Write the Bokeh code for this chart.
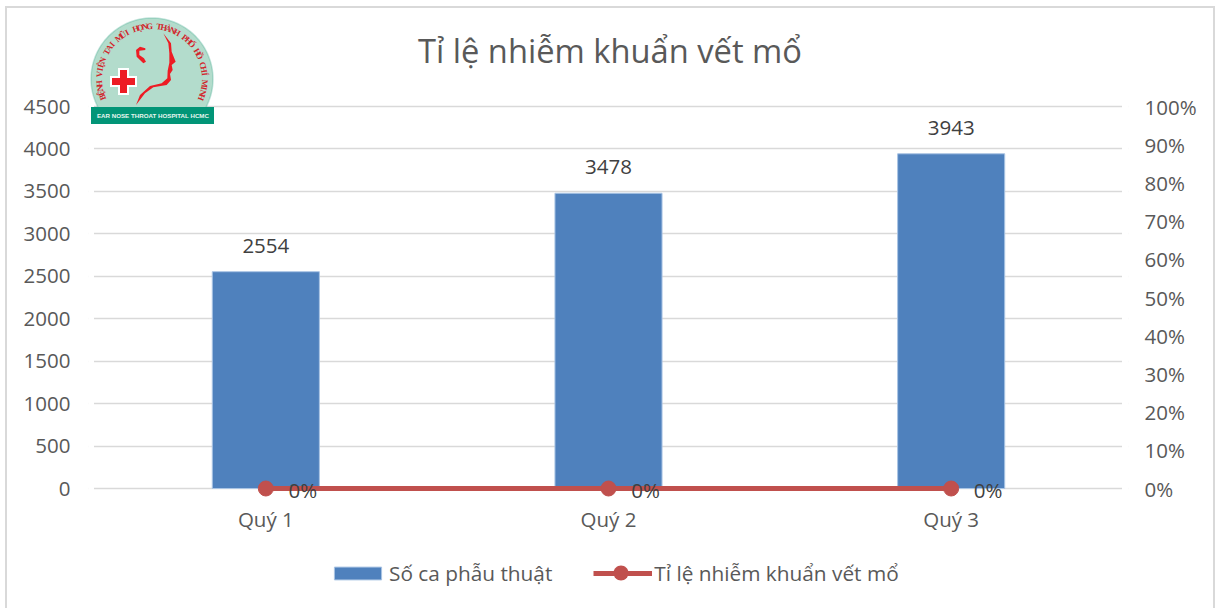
import math
from bokeh.plotting import figure
from bokeh.embed import file_html
from bokeh.resources import INLINE
from bokeh.models import (ColumnDataSource, FactorRange, Range1d, LinearAxis, FixedTicker,
                          NumeralTickFormatter, Legend, LegendItem, Label, BoxAnnotation, PolyAnnotation)
from bokeh.core.properties import value

categories = ["Quý 1", "Quý 2", "Quý 3"]
so_ca = [2554, 3478, 3943]
ti_le = [0, 0, 0]
ti_le_labels = ["0%", "0%", "0%"]
left_ticks = [0, 500, 1000, 1500, 2000, 2500, 3000, 3500, 4000, 4500]
right_ticks = [0, 0.1, 0.2, 0.3, 0.4, 0.5, 0.6, 0.7, 0.8, 0.9, 1.0]
title_text = "Tỉ lệ nhiễm khuẩn vết mổ"
bar_name = "Số ca phẫu thuật"
line_name = "Tỉ lệ nhiễm khuẩn vết mổ"
logo_arc_text = "BỆNH VIỆN TAI MŨI HỌNG THÀNH PHỐ HỒ CHÍ MINH"
logo_band_text = "EAR NOSE THROAT HOSPITAL HCMC"

FONT = "Open Sans"
OX, OY = 7, 8                    # page position of the canvas
W, H = 1206, 600
PAGE_L, PAGE_R = 88, 1128        # frame, wider than the plot area so logo and legend are not cut
GRID_L, GRID_R = 94, 1122
PAGE_T, PAGE_B = OY, OY + H
Y0, Y_TOP = 488, 106
px = Y0 - Y_TOP

src = ColumnDataSource(dict(cat=categories, n=so_ca, lbl=[str(v) for v in so_ca],
                            rate=ti_le, rate_lbl=ti_le_labels))

p = figure(width=W, height=H,
           x_range=FactorRange(*categories, factor_padding=0,
                               range_padding=((PAGE_R - PAGE_L) / ((GRID_R - GRID_L) / 3) - 3) / 2,
                               range_padding_units="absolute"),
           y_range=Range1d(-(PAGE_B - Y0) * 4500 / px, (Y0 - PAGE_T) * 4500 / px),
           output_backend="svg", toolbar_location=None,
           frame_width=PAGE_R - PAGE_L, frame_height=PAGE_B - PAGE_T,
           min_border_left=PAGE_L - OX, min_border_right=OX + W - PAGE_R, min_border_top=0,
           min_border_bottom=0,
           margin=(6, 0, 0, 5), background_fill_color="white", border_fill_color="white",
           outline_line_color=None,
           styles={"border-left": "2px solid #d9d9d9", "border-top": "2px solid #d9d9d9",
                   "border-right": "2px solid #d9d9d9"})
p.extra_y_ranges = {"pct": Range1d(-(PAGE_B - Y0) / px, (Y0 - PAGE_T) / px)}

p.ygrid.ticker = FixedTicker(ticks=left_ticks)
p.ygrid.grid_line_color = "#d9d9d9"
p.ygrid.grid_line_width = 1.5
p.xgrid.visible = False

p.yaxis.ticker = FixedTicker(ticks=left_ticks)
p.yaxis.axis_line_color = None
p.yaxis.major_tick_line_color = None
p.yaxis.minor_tick_line_color = None
p.yaxis.major_label_text_font = FONT
p.yaxis.major_label_text_font_size = "20.5px"
p.yaxis.major_label_text_color = "#595959"
p.yaxis.major_label_standoff = 12

p.xaxis.fixed_location = 0
p.xaxis.axis_line_color = None
p.xaxis.major_tick_line_color = None
p.xaxis.minor_tick_line_color = None
p.xaxis.major_label_text_font = FONT
p.xaxis.major_label_text_font_size = "20.5px"
p.xaxis.major_label_text_color = "#595959"
p.xaxis.major_label_standoff = 10

right = LinearAxis(y_range_name="pct", ticker=FixedTicker(ticks=right_ticks),
                   formatter=NumeralTickFormatter(format="0%"))
right.axis_line_color = None
right.major_tick_line_color = None
right.minor_tick_line_color = None
right.major_label_text_font = FONT
right.major_label_text_font_size = "20.5px"
right.major_label_text_color = "#595959"
right.major_label_standoff = 10
p.add_layout(right, "right")

bars = p.vbar(x="cat", top="n", width=0.3125, source=src, fill_color="#4f81bd", line_color="#a9c4e4", line_width=1)
ln = p.line(x="cat", y="rate", source=src, y_range_name="pct", line_color="#c0504d", line_width=5)
pts = p.scatter(x="cat", y="rate", source=src, y_range_name="pct", size=15, fill_color="#c0504d", line_color="#c0504d")

p.text(x="cat", y="n", text="lbl", source=src, text_align="center", text_baseline="middle",
       y_offset=-26, text_font=value(FONT), text_font_size="20.5px", text_color="#404040")
p.text(x="cat", y="rate", text="rate_lbl", source=src, y_range_name="pct", text_align="center",
       text_baseline="middle", x_offset=37, y_offset=1, text_font=value(FONT),
       text_font_size="20.5px", text_color="#404040")

legend = Legend(items=[LegendItem(label=bar_name, renderers=[bars]),
                       LegendItem(label=line_name, renderers=[ln, pts])],
                orientation="horizontal", location=(240, 21), border_line_color=None,
                background_fill_alpha=0, glyph_width=59, glyph_height=16, spacing=41,
                label_standoff=2, padding=0, margin=0, label_text_font=FONT,
                label_text_font_size="20.8px", label_text_color="#595959")
p.add_layout(legend, "center")

ADJ = 2.5  # canvas-unit annotations sit this far from the frame's origin because of the CSS border
def X(v):
    return v - OX - ADJ
def Y(v):
    return v - OY - ADJ
CANVAS = dict(left_units="canvas", right_units="canvas", top_units="canvas", bottom_units="canvas")
def box(l, r_, t, b, color, level="overlay"):
    p.add_layout(BoxAnnotation(left=X(l), right=X(r_), top=Y(t), bottom=Y(b), fill_color=color, fill_alpha=1,
                               line_color=None, level=level, **CANVAS))

# keep the grid lines inside the plot area
box(PAGE_L - 4, GRID_L, Y_TOP - 3, Y0 + 3, "#ffffff", "guide")
box(GRID_R, PAGE_R + 4, Y_TOP - 3, Y0 + 3, "#ffffff", "guide")

p.add_layout(Label(x=X(610), y=Y(50), x_units="canvas", y_units="canvas", text=title_text, text_align="center",
                   text_baseline="middle", text_font=FONT, text_font_size="32.7px", text_color="#595959"))

# full-size marker on the legend's line swatch
p.add_layout(PolyAnnotation(xs=[X(621 + 7.5 * math.cos(i * math.pi / 16)) for i in range(32)],
                            ys=[Y(573 + 7.5 * math.sin(i * math.pi / 16)) for i in range(32)],
                            xs_units="canvas", ys_units="canvas", fill_color="#c0504d", fill_alpha=1,
                            line_color=None, level="overlay"))

# hospital logo
cx, cy, r = 152, 79, 61
rim = [(cx + r * math.cos(i * math.pi / 60), cy + r * math.sin(i * math.pi / 60)) for i in range(120)]
rim = [q for q in rim if q[1] <= 110]
p.add_layout(PolyAnnotation(xs=[X(a) for a, _ in rim], ys=[Y(b) for _, b in rim],
                            xs_units="canvas", ys_units="canvas", fill_color="#b3dccc", fill_alpha=1,
                            line_color="#3fa98f", line_width=1.5, level="overlay"))
box(91, 214, 107, 124, "#029577")
box(118, 129, 68, 95, "#ffffff")
box(110, 137, 76, 87, "#ffffff")
box(120, 127, 70, 93, "#ed1c24")
box(112, 135, 78, 85, "#ed1c24")
face = [(490, 100), (513, 130), (515, 155), (527, 185), (515, 195), (518, 210), (510, 222), (513, 240),
        (500, 255), (460, 262), (435, 280), (408, 315), (420, 285), (450, 258), (485, 250), (502, 235),
        (503, 212), (508, 188), (508, 160), (505, 130)]
ear = [(436, 145), (420, 140), (408, 150), (410, 170), (430, 190), (438, 185), (432, 175), (418, 165),
       (418, 152), (436, 150)]
for shape in (face, ear):
    p.add_layout(PolyAnnotation(xs=[X(a / 3) for a, _ in shape], ys=[Y(b / 3) for _, b in shape],
                                xs_units="canvas", ys_units="canvas", fill_color="#ed1c24", fill_alpha=1,
                                line_color=None, level="overlay"))
start, end = math.radians(157), math.radians(383)
n = len(logo_arc_text)
for i, ch in enumerate(logo_arc_text):
    t = start + (end - start) * (i + 0.5) / n
    p.add_layout(Label(x=X(cx + 53 * math.cos(t)), y=Y(cy + 53 * math.sin(t)), x_units="canvas", y_units="canvas",
                       text=ch, angle=-(t + math.pi / 2), angle_units="rad", text_align="center",
                       text_baseline="middle", text_font="Liberation Serif", text_font_style="bold",
                       text_font_size="8.5px", text_color="#d2232a", level="overlay"))
p.add_layout(Label(x=X(153), y=Y(115.5), x_units="canvas", y_units="canvas", text=logo_band_text, text_align="center",
                   text_baseline="middle", text_font="Liberation Sans", text_font_style="bold",
                   text_font_size="6.2px", text_color="#e8f5ef", level="overlay"))

open("out.html", "w").write(file_html(p, INLINE))
